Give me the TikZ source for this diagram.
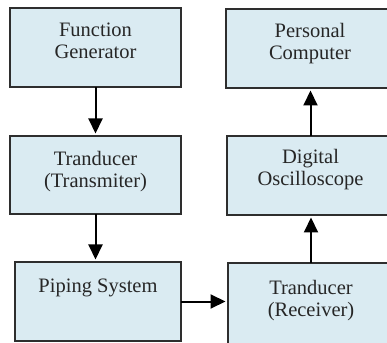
\documentclass[tikz,border=0pt]{standalone}
\usepackage{fontspec}
\setmainfont{Liberation Serif}
\usetikzlibrary{arrows.meta,calc}
\definecolor{boxfill}{HTML}{DAEBF2}
\definecolor{boxline}{HTML}{2E2E2E}
\tikzset{
  x=1pt, y=1pt,
  blk/.style={draw=boxline, line width=1.4pt, fill=boxfill, inner sep=0pt, outer sep=0pt},
  blktext/.style={align=center, anchor=base, inner sep=0pt, font=\fontsize{20.5}{22}\selectfont, text=black!85},
  arr/.style={line width=2pt, -{Triangle[width=14pt,length=15pt]}, shorten >=2.5pt}
}
\begin{document}
\begin{tikzpicture}
\useasboundingbox (0,0) rectangle (387,342);
\clip (0,0) rectangle (387,342);
% boxes
\node[blk, minimum width=171, minimum height=79] (fg) at (95.5,294.5) {};
\node[blk, minimum width=171, minimum height=78] (tr) at (95.5,167) {};
\node[blk, minimum width=166, minimum height=79] (ps) at (98,40.5) {};
\node[blk, minimum width=168, minimum height=79] (pc) at (310,293.5) {};
\node[blk, minimum width=167, minimum height=79] (dg) at (310.5,166.5) {};
\node[blk, minimum width=166, minimum height=84] (rc) at (311,37) {};
% texts (base anchor = baseline of last line)
\node[blktext] (fgt) at ($(fg.center)+(0,-11.5)$) {Function\\Generator};
\node[blktext] (trt) at ($(tr.center)+(0,-13)$) {Tranducer\\(Transmiter)};
\node[blktext] (pst) at ($(ps.center)+(0,9.5)$) {Piping System};
\node[blktext] (pct) at ($(pc.center)+(0,-11.5)$) {Personal\\Computer};
\node[blktext] (dgt) at ($(dg.center)+(0,-10.5)$) {Digital\\Oscilloscope};
\node[blktext] (rct) at ($(rc.center)+(0,-11.7)$) {Tranducer\\(Receiver)};
% connectors
\draw[arr] (fg.south) -- (tr.north);
\draw[arr] (tr.south) -- (ps.north -| tr.south);
\draw[arr] (ps.east) -- (rc.west |- ps.east);
\draw[arr] (rc.north) -- (rc.north |- dg.south);
\draw[arr] (dg.north) -- (dg.north |- pc.south);
\end{tikzpicture}
\end{document}
